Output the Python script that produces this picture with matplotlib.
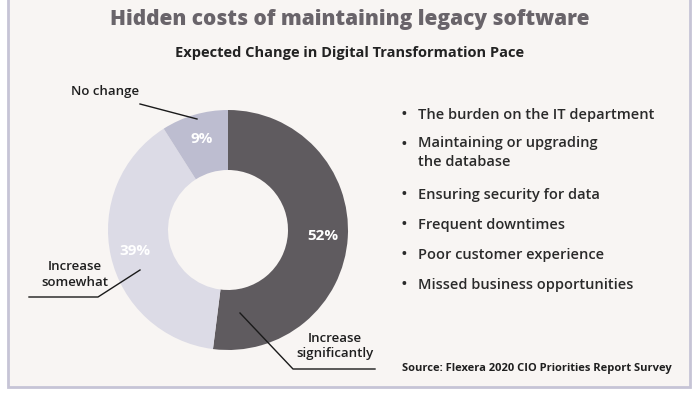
import matplotlib
matplotlib.use("Agg")
import matplotlib.pyplot as plt
import numpy as np
from matplotlib.patches import Rectangle
from matplotlib.lines import Line2D

# ---- data ----
categories = ["Increase significantly", "Increase somewhat", "No change"]
values = [52, 39, 9]
colors = ["#5f5b5f", "#dcdbe6", "#bdbdd0"]
bullets = [
    "The burden on the IT department",
    "Maintaining or upgrading\nthe database",
    "Ensuring security for data",
    "Frequent downtimes",
    "Poor customer experience",
    "Missed business opportunities",
]
title = "Hidden costs of maintaining legacy software"
subtitle = "Expected Change in Digital Transformation Pace"
source = "Source: Flexera 2020 CIO Priorities Report Survey"

W, H = 700, 396
plt.rcParams['font.family'] = ['Open Sans', 'DejaVu Sans']
fig = plt.figure(figsize=(W / 100, H / 100), dpi=100)
fig.patch.set_facecolor("white")

def px(x, y):
    return (x / W, 1 - y / H)

# panel background + frame
fig.patches.append(Rectangle(px(8, 387), 682 / W, 400 / H, transform=fig.transFigure,
                             facecolor="#f8f5f3", edgecolor="#c6c4d6", lw=2, zorder=-10))

# titles
fig.text(*px(350, 20), title, ha="center", va="center", fontsize=15.0, fontweight="heavy",
         color="#69646a")
fig.text(*px(350, 53), subtitle, ha="center", va="center", fontsize=10.5, fontweight="bold",
         color="#222222")

# donut
cx, cy, R = 228, 230, 120
ax = fig.add_axes([(cx - R) / W, (H - cy - R) / H, 2 * R / W, 2 * R / H])
ax.set_facecolor("none")
ax.set_zorder(5)
wedges, texts, autotexts = ax.pie(values, colors=colors, startangle=90, counterclock=False,
                                  radius=1.0, wedgeprops=dict(width=0.5, linewidth=0),
                                  autopct="%d%%", pctdistance=0.79,
                                  textprops=dict(color="white", fontsize=11, fontweight="bold"))
ax.set_xlim(-1, 1)
ax.set_ylim(-1, 1)
ax.set_aspect("auto")
ax.axis("off")

# leader lines and labels (in pixel coords)
def poly(pts):
    xs = [p[0] / W for p in pts]
    ys = [1 - p[1] / H for p in pts]
    fig.add_artist(Line2D(xs, ys, transform=fig.transFigure, color="#1a1a1a", lw=1.0, zorder=10))

lab_kw = dict(fontsize=9.5, color="#1f1f1f", fontweight="semibold")
fig.text(*px(105, 92), "No change", ha="center", va="center", **lab_kw)
poly([(140, 104), (197, 119)])
fig.text(*px(75, 274), "Increase\nsomewhat", ha="center", va="center", linespacing=1.3, **lab_kw)
poly([(29, 297), (98, 297), (140, 270)])
fig.text(*px(335, 346), "Increase\nsignificantly", ha="center", va="center", linespacing=1.3, **lab_kw)
poly([(240, 313), (293, 369), (375, 369)])

# bullets
ys = [115, 145, 195, 225, 255, 285]
for y, b in zip(ys, bullets):
    fig.text(*px(404, y), "•", ha="center", va="center", fontsize=13, color="#2a2a2a")
    if "\n" in b:
        fig.text(*px(418, y - 9), b, ha="left", va="top", fontsize=10.5, color="#2a2a2a",
                 fontweight="semibold", linespacing=1.45)
    else:
        fig.text(*px(418, y), b, ha="left", va="center", fontsize=10.5, color="#2a2a2a",
                 fontweight="semibold")

fig.text(*px(402, 368), source, ha="left", va="center", fontsize=8.0, fontweight="bold",
         color="#1f1f1f")

fig.savefig("out.png", dpi=100, facecolor=fig.get_facecolor())
